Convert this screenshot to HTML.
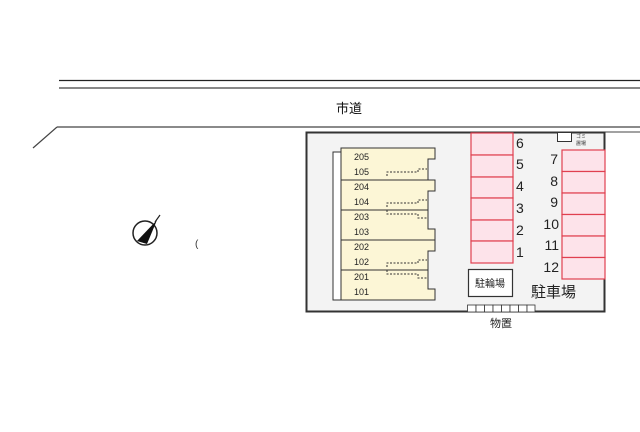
<!DOCTYPE html>
<html><head><meta charset="utf-8"><style>
body{margin:0;background:#fff;}
svg text{font-family:"Liberation Sans","Noto Sans CJK JP",sans-serif;}
</style></head><body>
<svg width="640" height="427" viewBox="0 0 640 427" xmlns="http://www.w3.org/2000/svg">
<line x1="59" y1="80.5" x2="640" y2="80.5" stroke="#222" stroke-width="1.2"/>
<line x1="59" y1="88" x2="640" y2="88" stroke="#888" stroke-width="2"/>
<line x1="57" y1="127" x2="640" y2="127" stroke="#444" stroke-width="1.3"/>
<line x1="57" y1="127" x2="33" y2="148" stroke="#444" stroke-width="1.2"/>
<line x1="605" y1="132" x2="640" y2="132" stroke="#444" stroke-width="1"/>
<text x="336" y="113" font-size="13" fill="#111">市道</text>
<!-- compass -->
<circle cx="145" cy="233" r="12" fill="#fff" stroke="#222" stroke-width="1.5"/>
<polygon points="157,220 137,241 147,244" fill="#111"/>
<line x1="155" y1="222" x2="160" y2="215" stroke="#222" stroke-width="1.2"/>
<text x="195" y="247" font-size="10" fill="#333">(</text>
<!-- site -->
<rect x="306.5" y="132.5" width="298" height="179" fill="#f3f3f3" stroke="#333" stroke-width="2"/>
<!-- building -->
<rect x="333" y="152" width="8" height="148" fill="#fff" stroke="#333" stroke-width="1"/>
<path d="M341,148 H435 V159 H428 V180 H341 Z" fill="#fcf6d6" stroke="#333" stroke-width="1"/>
<path d="M341,180 H435 V191 H428 V210 H341 Z" fill="#fcf6d6" stroke="#333" stroke-width="1"/>
<path d="M341,210 H428 V229 H435 V240 H341 Z" fill="#fcf6d6" stroke="#333" stroke-width="1"/>
<path d="M341,240 H435 V251 H428 V270 H341 Z" fill="#fcf6d6" stroke="#333" stroke-width="1"/>
<path d="M341,270 H428 V289 H435 V300 H341 Z" fill="#fcf6d6" stroke="#333" stroke-width="1"/>
<g font-size="9" fill="#222">
<text x="354" y="160">205</text><text x="354" y="175">105</text>
<text x="354" y="190">204</text><text x="354" y="205">104</text>
<text x="354" y="220">203</text><text x="354" y="235">103</text>
<text x="354" y="250">202</text><text x="354" y="265">102</text>
<text x="354" y="280">201</text><text x="354" y="295">101</text>
</g>
<g stroke="#333" stroke-width="1" stroke-dasharray="2,1.5" fill="none">
<path d="M387,176 V172 H418 V169 H427"/>
<path d="M387,207 V203 H418 V200 H427"/>
<path d="M387,210 V214 H418 V218 H427"/>
<path d="M387,267 V263 H418 V260 H427"/>
<path d="M387,270 V274 H418 V278 H427"/>
</g>
<!-- parking col1 -->
<g fill="#fde3ea" stroke="#e04050" stroke-width="1.2">
<rect x="471" y="133" width="42" height="22"/><rect x="471" y="155" width="42" height="22"/>
<rect x="471" y="177" width="42" height="21"/><rect x="471" y="198" width="42" height="22"/>
<rect x="471" y="220" width="42" height="21"/><rect x="471" y="241" width="42" height="22"/>
<rect x="562" y="150" width="43" height="21.5"/><rect x="562" y="171.5" width="43" height="21.5"/>
<rect x="562" y="193" width="43" height="21.5"/><rect x="562" y="214.5" width="43" height="21.5"/>
<rect x="562" y="236" width="43" height="21.5"/><rect x="562" y="257.5" width="43" height="21.5"/>
</g>
<g font-size="14" fill="#222">
<text x="516" y="148">6</text><text x="516" y="169">5</text><text x="516" y="191">4</text>
<text x="516" y="213">3</text><text x="516" y="235">2</text><text x="516" y="257">1</text>
</g>
<g font-size="14" fill="#222" text-anchor="end">
<text x="558" y="164">7</text><text x="558" y="186">8</text><text x="558" y="207">9</text>
<text x="559" y="229">10</text><text x="559" y="250">11</text><text x="559" y="272">12</text>
</g>
<rect x="468.5" y="269.5" width="44" height="27" fill="#fff" stroke="#333" stroke-width="1.2"/>
<text x="490" y="287" font-size="10" fill="#222" text-anchor="middle">駐輪場</text>
<text x="531" y="297" font-size="15" fill="#222">駐車場</text>
<rect x="557.5" y="132.5" width="14" height="9" fill="#fff" stroke="#333" stroke-width="1"/>
<text x="576" y="138" font-size="5" fill="#333">ゴミ</text>
<text x="576" y="145" font-size="5" fill="#333">置場</text>
<g fill="#fff" stroke="#333" stroke-width="0.8">
<rect x="467.5" y="305" width="8.5" height="7"/><rect x="476" y="305" width="8.5" height="7"/>
<rect x="484.5" y="305" width="8.5" height="7"/><rect x="493" y="305" width="8.5" height="7"/>
<rect x="501.5" y="305" width="8.5" height="7"/><rect x="510" y="305" width="8.5" height="7"/>
<rect x="518.5" y="305" width="8.5" height="7"/><rect x="527" y="305" width="8" height="7"/>
</g>
<text x="501" y="327" font-size="11" fill="#222" text-anchor="middle">物置</text>
</svg>
</body></html>
